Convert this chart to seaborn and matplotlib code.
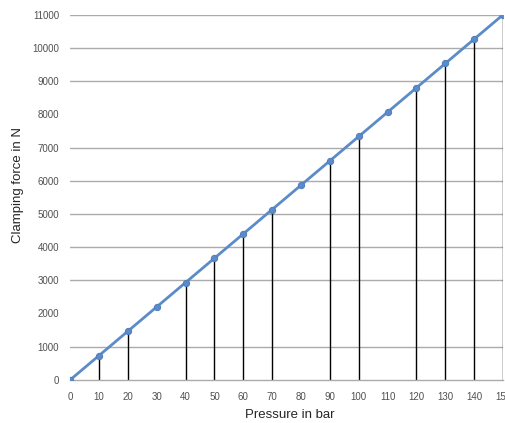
import matplotlib
matplotlib.use("Agg")
import matplotlib.pyplot as plt
import seaborn as sns
import pandas as pd

# Pressure (bar) vs clamping force (N)
pressure = [0, 10, 20, 30, 40, 50, 60, 70, 80, 90, 100, 110, 120, 130, 140, 150]
force = [0, 733, 1467, 2200, 2933, 3667, 4400, 5133, 5867, 6600, 7333, 8067, 8800, 9533, 10267, 11000]
# pressures where a drop line is drawn down to the axis
drop_pressures = [10, 20, 40, 50, 60, 70, 90, 100, 120, 130, 140, 150]
y_ticks = [0, 1000, 2000, 3000, 4000, 5000, 6000, 7000, 8000, 9000, 10000, 11000]
no_grid = [2000, 8000]

df = pd.DataFrame({"pressure": pressure, "force": force})
drops = df[df["pressure"].isin(drop_pressures)]

sns.set_style("white")
plt.rcParams["font.family"] = ["Liberation Sans", "DejaVu Sans"]

fig = plt.figure(figsize=(5.05, 4.23), dpi=100)
ax = fig.add_axes([0.139, 0.102, 0.857, 0.863])

# Gridlines
for y in y_ticks:
    if y == 0 or y in no_grid:
        continue
    ax.axhline(y, color="#ababab", lw=1, zorder=0)

# Drop lines
ax.vlines(drops["pressure"], 0, drops["force"], color="black", lw=1, zorder=1)

# Line
sns.lineplot(data=df, x="pressure", y="force", ax=ax, color="#5b8bc8",
             lw=2, marker="o", markersize=4.5, markeredgecolor="#4f7fbf", zorder=3)

ax.set_xlim(0, 150)
ax.set_ylim(0, 11000)
ax.set_xticks(pressure)
ax.set_yticks(y_ticks)
ax.tick_params(axis="both", labelsize=7, labelcolor="#505050", length=0, pad=9)
ax.tick_params(axis="y", length=6, color="#ababab", width=1, pad=2)

for side in ["top", "right", "left"]:
    ax.spines[side].set_visible(False)
ax.spines["bottom"].set_color("#ababab")
ax.spines["bottom"].set_linewidth(1)

ax.set_xlabel("Pressure in bar", fontsize=9.5, va="center")
ax.set_ylabel("Clamping force in N", fontsize=9.5, va="center")
ax.xaxis.set_label_coords(0.508, -0.096)
ax.yaxis.set_label_coords(-0.12, 0.534)

plt.savefig("out.png", dpi=100)
plt.close()
